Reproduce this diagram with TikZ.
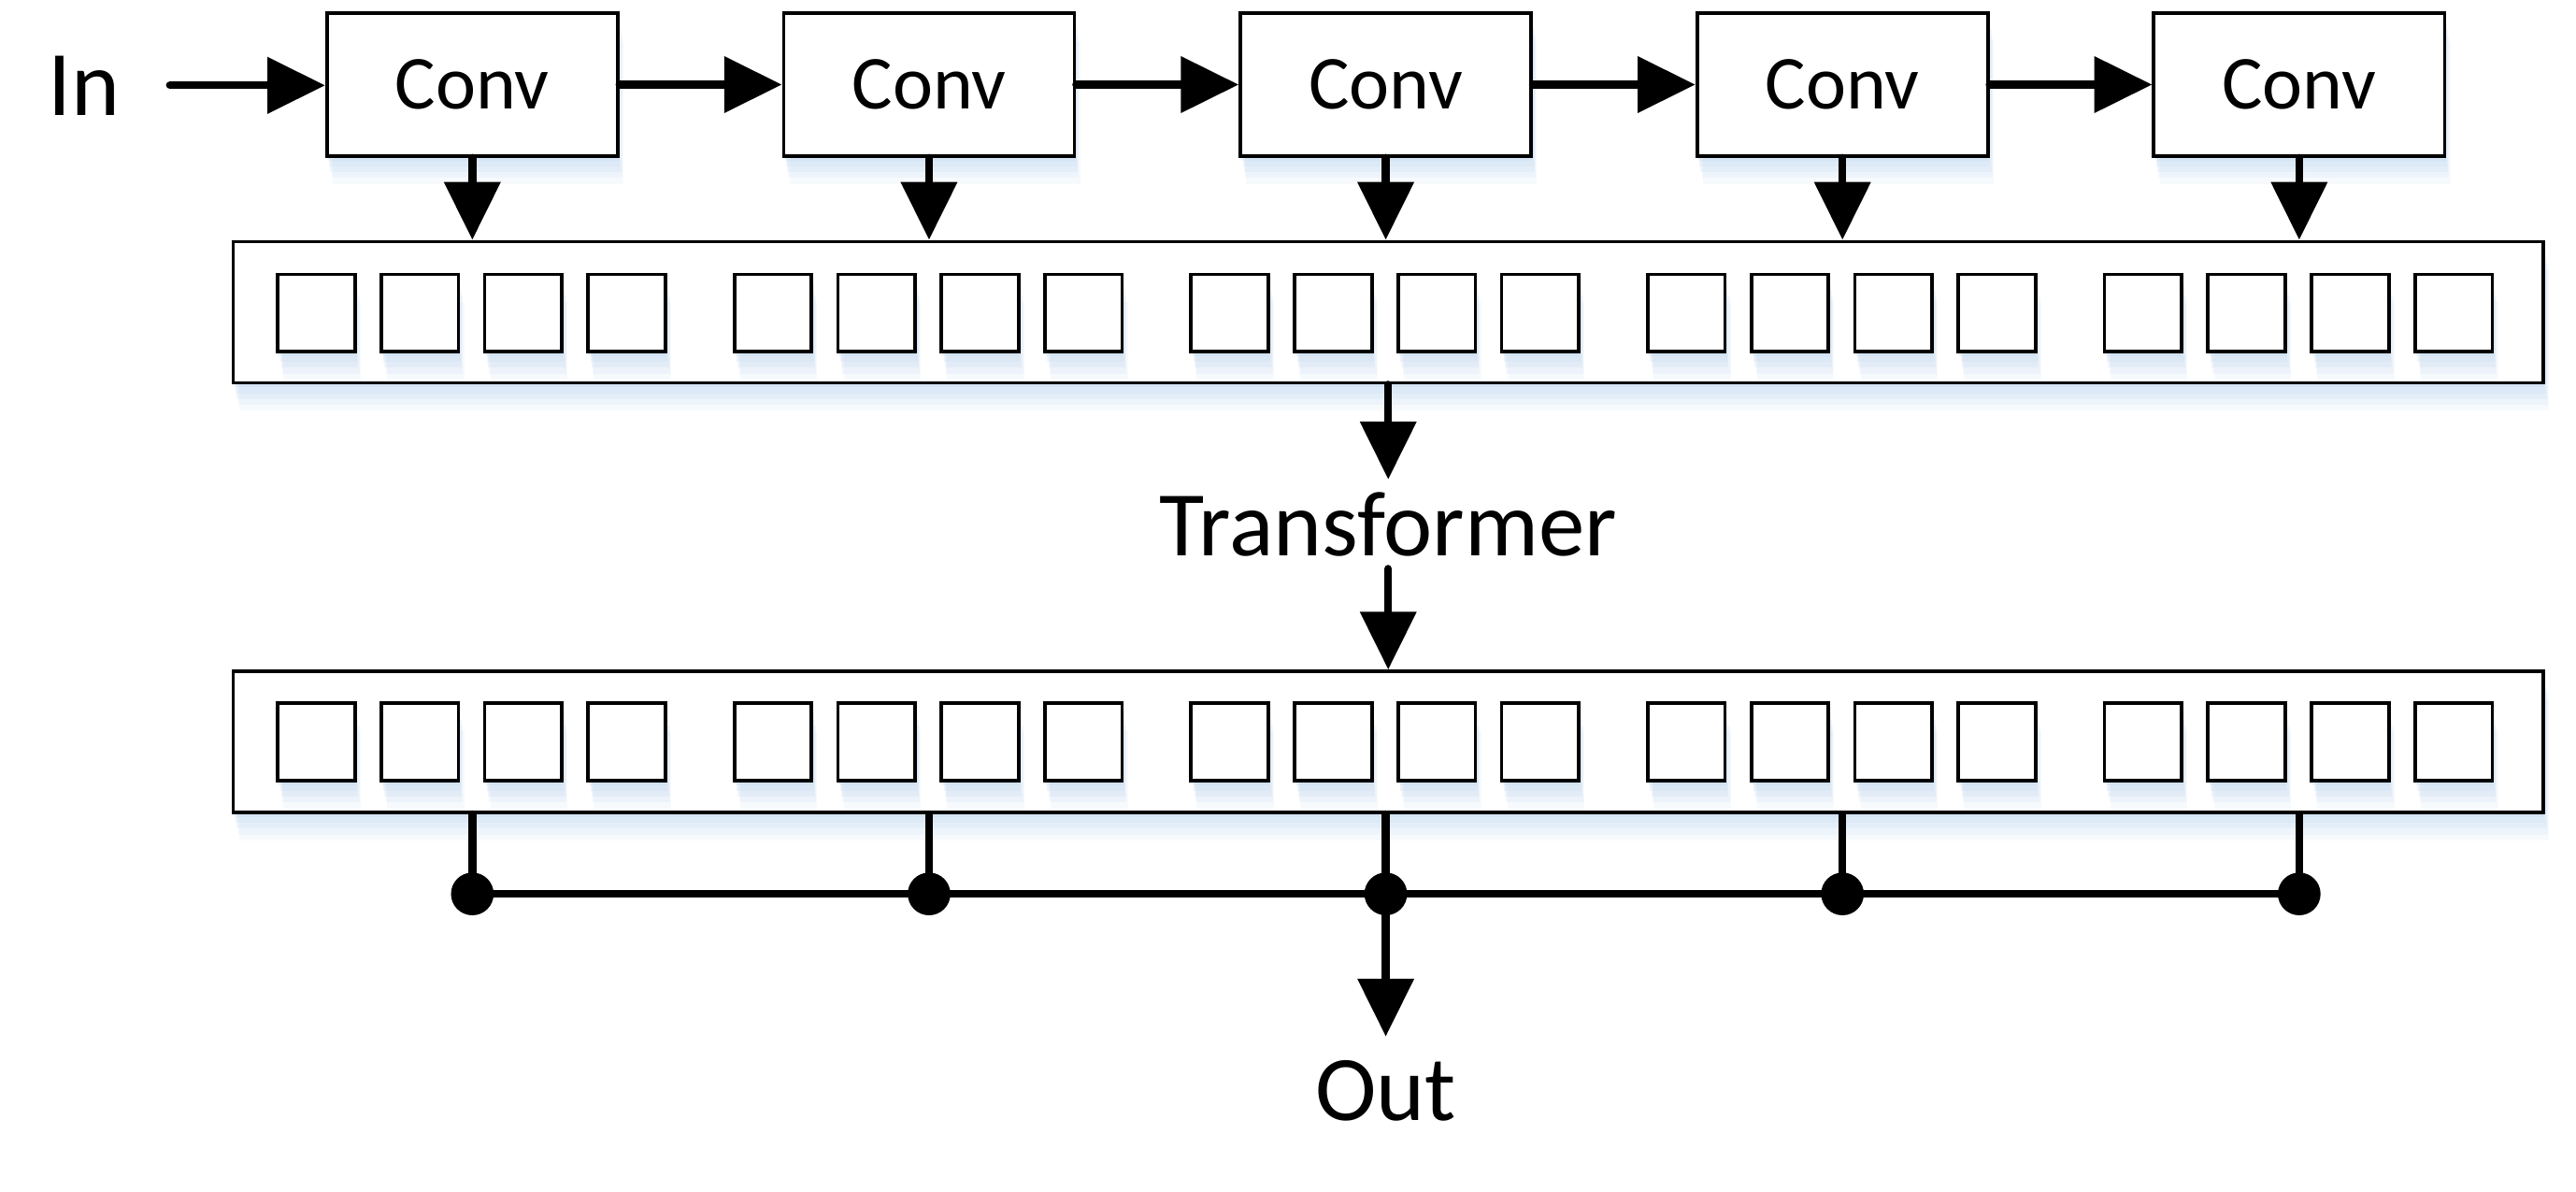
\documentclass[tikz,border=0pt]{standalone}
\usepackage{fontspec}
\setmainfont{Carlito}
\usetikzlibrary{arrows.meta,shadows}
\definecolor{shc}{RGB}{190,214,238}
\begin{document}
\begin{tikzpicture}[x=1cm,y=1cm,
  sh/.style={general shadow={shadow xshift=0.2pt,shadow yshift=-0.8pt,fill=shc,opacity=0.25},
             general shadow={shadow xshift=0.4pt,shadow yshift=-1.8pt,fill=shc,opacity=0.22},
             general shadow={shadow xshift=0.6pt,shadow yshift=-2.8pt,fill=shc,opacity=0.2},
             general shadow={shadow xshift=0.8pt,shadow yshift=-3.8pt,fill=shc,opacity=0.16},
             general shadow={shadow xshift=1pt,shadow yshift=-4.8pt,fill=shc,opacity=0.12}},
  convbox/.style={draw, line width=0.6pt, fill=white, sh, minimum width=1.77cm, minimum height=0.87cm, inner sep=0pt, font=\fontsize{13.2}{15}\selectfont},
  barbox/.style={draw, line width=0.6pt, fill=white, sh, minimum width=14.06cm, minimum height=0.86cm, inner sep=0pt},
  cell/.style={draw, line width=0.6pt, fill=white, sh, minimum size=0.47cm, inner sep=0pt},
  lbl/.style={font=\fontsize{16}{19}\selectfont},
  conn/.style={line width=1.35pt, line cap=round},
  arr/.style={conn, -{Triangle[length=10pt,width=9.5pt]}},
  dotnode/.style={circle, fill=black, minimum size=0.26cm, inner sep=0pt},
]
\useasboundingbox (0,0) rectangle (15.68,-7.25);
% input label
\node[lbl, anchor=base, inner xsep=8.5pt, inner ysep=0pt] (in) at (0.51,-0.70) {In};
% conv boxes
\foreach \i in {1,...,5}{
  \node[convbox] (conv\i) at ({2.875+2.78*(\i-1)},-0.515) {Conv};
}
% feature bars
\node[barbox] (bar1) at (8.45,-1.90) {};
\node[barbox] (bar2) at (8.45,-4.515) {};
\foreach \g in {0,...,4}{
  \foreach \k in {0,...,3}{
    \node[cell] (a-\g-\k) at ({1.925+2.78*\g+0.63*\k},-1.905) {};
    \node[cell] (b-\g-\k) at ({1.925+2.78*\g+0.63*\k},-4.515) {};
  }
}
% labels
\node[lbl, anchor=base, inner sep=2pt] (tr) at (8.45,-3.38) {Transformer};
\coordinate (dl) at (0,-5.44);
% arrows
\draw[arr] (in.east) -- (in.east -| conv1.west);
\foreach \i [evaluate=\i as \j using int(\i+1)] in {1,...,4}{
  \draw[arr] (conv\i.east) -- (conv\j.west);
}
\foreach \i in {1,...,5}{
  \draw[arr] (conv\i.south) -- (conv\i.south |- bar1.north);
}
\draw[arr] (bar1.south) -- (tr.north);
\draw[arr] (tr.south) -- (bar2.north);
% bottom aggregation
\foreach \i in {1,...,5}{
  \node[dotnode] (d\i) at (conv\i |- dl) {};
  \draw[conn] (d\i.center) -- (d\i.center |- bar2.south);
}
\draw[conn] (d1.center) -- (d5.center);
\node[lbl, anchor=base, inner sep=4pt] (out) at (8.435,-6.82) {Out};
\draw[arr] (d3.center) -- (d3.center |- out.north);
\end{tikzpicture}
\end{document}
